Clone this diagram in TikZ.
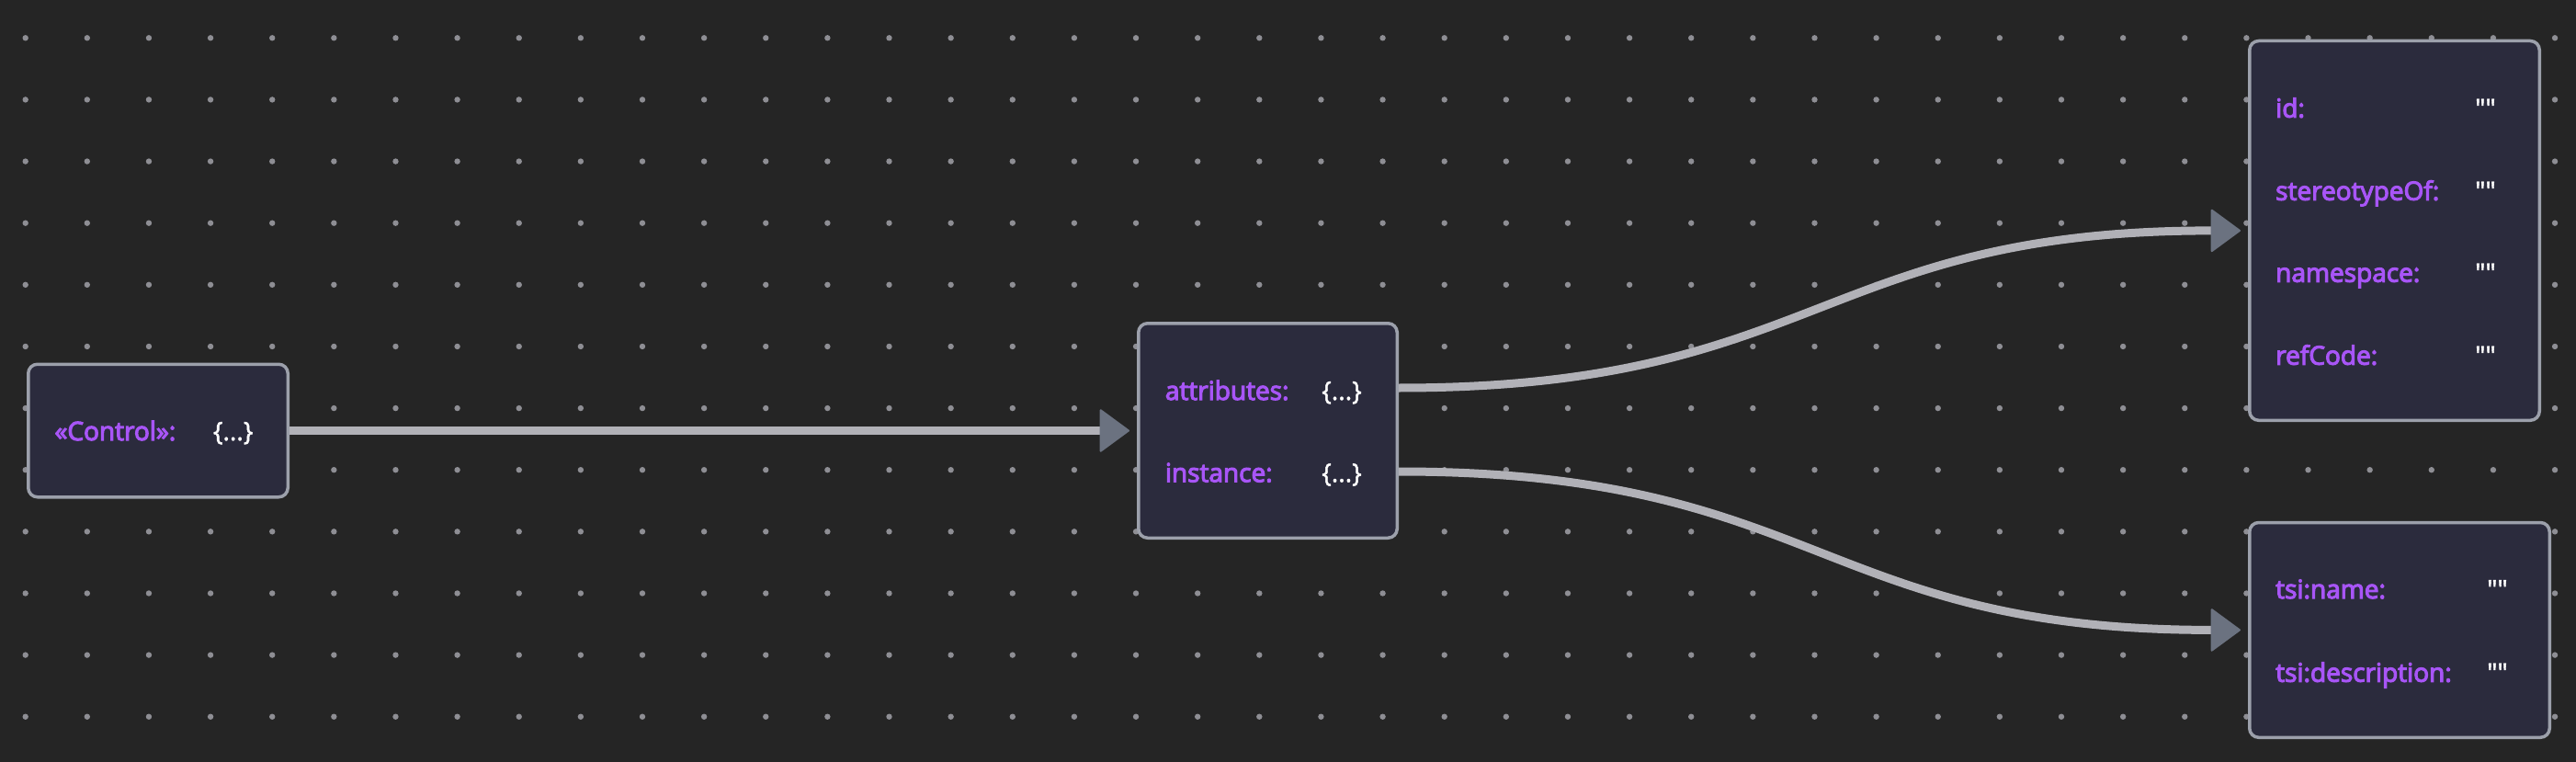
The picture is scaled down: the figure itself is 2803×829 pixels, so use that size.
\documentclass[tikz,border=0pt]{standalone}
\usepackage{fontspec}
\setmainfont{Open Sans}
\newfontfamily\keyfont{Open Sans}[FakeBold=4]
\newfontfamily\valfont{Open Sans}[FakeBold=1.5]
\usetikzlibrary{arrows.meta}
\definecolor{bg}{HTML}{252525}
\definecolor{dotc}{HTML}{8E8E94}
\definecolor{boxfill}{HTML}{2B2B3D}
\definecolor{boxborder}{HTML}{9CA0AB}
\definecolor{keyc}{HTML}{A855F7}
\definecolor{valc}{HTML}{FFFFFF}
\definecolor{edgec}{HTML}{B1B1B7}
\definecolor{tipc}{HTML}{6B7280}
\begin{document}
\begin{tikzpicture}[x=1pt,y=-1pt,
  card/.style={draw=boxborder, fill=boxfill, line width=3.5pt, rounded corners=10pt, inner sep=0pt},
  key/.style={anchor=base west, text=keyc, font=\keyfont\fontsize{28}{34}\selectfont, inner sep=0pt},
  val/.style={anchor=base west, text=valc, font=\valfont\fontsize{28}{34}\selectfont, inner sep=0pt},
  link/.style={draw=edgec, line width=9pt, -{Triangle[length=33pt,width=48pt,round,line width=2pt,color=tipc,fill=tipc]}}
]
\useasboundingbox (0,0) rectangle (2803,829);
\fill[bg] (0,0) rectangle (2803,829);
\foreach \i in {0,...,41}{
  \foreach \j in {0,...,11}{
    \fill[dotc] ({27.7+67.13*\i},{41.3+67.13*\j}) circle[radius=3.2];
  }
}
% cards
\node[card, minimum width=282.5pt, minimum height=144.5pt] (ctrl) at (172,468.5) {};
\node[card, minimum width=281.5pt, minimum height=233.5pt] (mid) at (1379.5,468.5) {};
\node[card, minimum width=315.5pt, minimum height=412.8pt] (ra) at (2605.5,250.9) {};
\node[card, minimum width=326.5pt, minimum height=233.8pt] (rb) at (2611,685.4) {};
% texts
\node[key] (ctrlk) at (59.3,479) {«Control»:};
\node[val] (ctrlv) at (231.7,479) {\{...\}};
\node[key] (attrk) at (1267.7,435) {attributes:};
\node[val] (attrv) at (1438,435) {\{...\}};
\node[key] (instk) at (1267.7,524.3) {instance:};
\node[val] (instv) at (1438,524.3) {\{...\}};
\node[key] (idk) at (2476,127.7) {id:};
\node[val] (idv) at (2693,127.7) {""};
\node[key] (stk) at (2476,217.7) {stereotypeOf:};
\node[val] (stv) at (2693,217.7) {""};
\node[key] (nsk) at (2476,306.7) {namespace:};
\node[val] (nsv) at (2693,306.7) {""};
\node[key] (rck) at (2476,396.7) {refCode:};
\node[val] (rcv) at (2693,396.7) {""};
\node[key] (tnk) at (2476,651) {tsi:name:};
\node[val] (tnv) at (2706,651) {""};
\node[key] (tdk) at (2476,741.7) {tsi:description:};
\node[val] (tdv) at (2706,741.7) {""};
% connectors
\draw[link] (ctrl.east) -- ([xshift=-8pt]mid.west);
\draw[link] ([yshift=-72pt]mid.north east) .. controls +(458,0) and +(-458,0) .. ([xshift=-8pt]ra.west);
\draw[link] ([yshift=-163pt]mid.north east) .. controls +(458,0) and +(-458,0) .. ([xshift=-8pt]rb.west);
\end{tikzpicture}
\end{document}
